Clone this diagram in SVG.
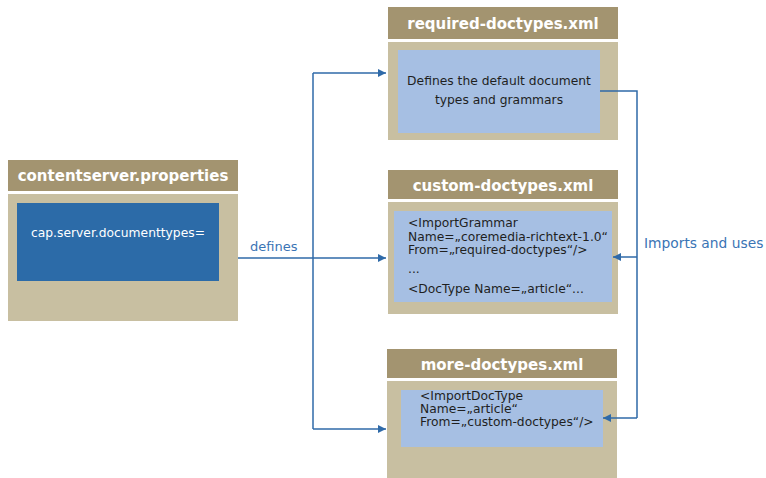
<svg xmlns="http://www.w3.org/2000/svg" width="766" height="478" viewBox="0 0 766 478">
<style>
.hdr{fill:#A39470}
.body{fill:#C8BFA1}
.inner{fill:#A6BFE3}
.title{font-family:"DejaVu Sans",Verdana,sans-serif;font-weight:bold;font-size:15px;fill:#ffffff;text-anchor:middle}
.txt{font-family:"DejaVu Sans",Verdana,sans-serif;font-size:12.3px;fill:#1f1f1f}
.lbl{font-family:"DejaVu Sans",Verdana,sans-serif;font-size:13px;fill:#3A74B5}
.conn{fill:none;stroke:#2F6AA8;stroke-width:1.5}
</style>
<defs>
<marker id="arr" viewBox="0 0 10 10" refX="10" refY="5" markerWidth="8" markerHeight="8" markerUnits="userSpaceOnUse" orient="auto">
<path d="M0,0 L10,5 L0,10 z" fill="#2F6AA8"/>
</marker>
</defs>
<rect width="766" height="478" fill="#ffffff"/>
<g id="contentserver">
<rect class="hdr" x="8" y="160" width="230" height="31"/>
<text class="title" x="123" y="181">contentserver.properties</text>
<rect class="body" x="8" y="194" width="230" height="127"/>
<rect x="17" y="203" width="202" height="78" fill="#2C6BA8"/>
<text class="txt" x="118" y="237" text-anchor="middle" style="fill:#ffffff">cap.server.documenttypes=</text>
</g>
<g id="required">
<rect class="hdr" x="388" y="7" width="230" height="32"/>
<text class="title" x="503" y="29">required-doctypes.xml</text>
<rect class="body" x="388" y="42" width="230" height="98"/>
<rect class="inner" x="398" y="50" width="202" height="83"/>
<text class="txt" x="499" y="85" text-anchor="middle">Defines the default document</text>
<text class="txt" x="499" y="104" text-anchor="middle">types and grammars</text>
</g>
<g id="custom">
<rect class="hdr" x="388" y="170" width="230" height="29"/>
<text class="title" x="503" y="191">custom-doctypes.xml</text>
<rect class="body" x="388" y="202" width="230" height="112"/>
<rect class="inner" x="394" y="211" width="218" height="91"/>
<text class="txt" x="408" y="227">&lt;ImportGrammar</text>
<text class="txt" x="408" y="241">Name=„coremedia-richtext-1.0“</text>
<text class="txt" x="408" y="254">From=„required-doctypes“/&gt;</text>
<text class="txt" x="408" y="273">...</text>
<text class="txt" x="408" y="293">&lt;DocType Name=„article“...</text>
</g>
<g id="more">
<rect class="hdr" x="387" y="349" width="230" height="29"/>
<text class="title" x="502" y="370">more-doctypes.xml</text>
<rect class="body" x="387" y="381" width="230" height="97"/>
<rect class="inner" x="401" y="390" width="202" height="57"/>
<text class="txt" x="420" y="400">&lt;ImportDocType</text>
<text class="txt" x="420" y="413">Name=„article“</text>
<text class="txt" x="420" y="426">From=„custom-doctypes“/&gt;</text>
</g>
<g id="connectors">
<path class="conn" d="M238,258 H313"/>
<path class="conn" d="M313,73 V429"/>
<path class="conn" d="M313,73 H386" marker-end="url(#arr)"/>
<path class="conn" d="M313,258 H386" marker-end="url(#arr)"/>
<path class="conn" d="M313,429 H386" marker-end="url(#arr)"/>
<path class="conn" d="M600,91 H637 V418"/>
<path class="conn" d="M637,257 H613" marker-end="url(#arr)"/>
<path class="conn" d="M637,418 H603" marker-end="url(#arr)"/>
<text class="lbl" x="250" y="251">defines</text>
<text class="lbl" x="644" y="248" style="font-size:13.8px">Imports and uses</text>
</g>
</svg>
